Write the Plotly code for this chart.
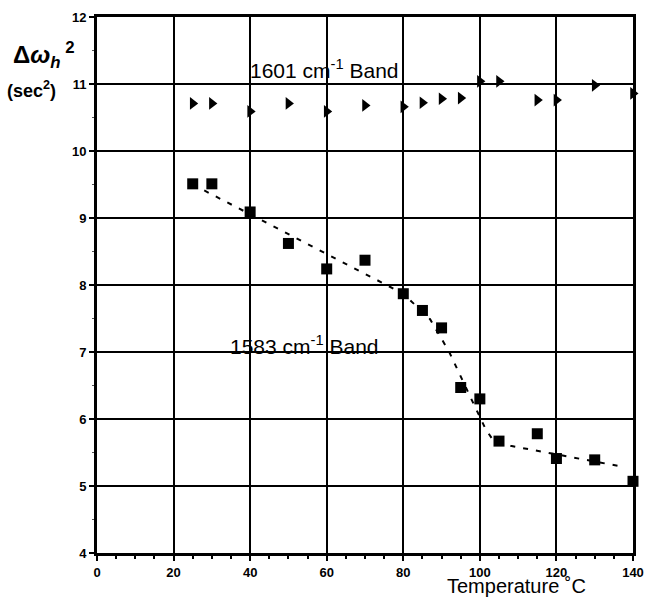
import plotly.graph_objects as go

# 1601 cm-1 band: temperature (°C) and Δω_h² (sec²)
temp_1601 = [25, 30, 40, 50, 60, 70, 80, 85, 90, 95, 100, 105, 115, 120, 130, 140]
dw_1601 = [10.71, 10.71, 10.59, 10.71, 10.59, 10.68, 10.66, 10.72, 10.78, 10.79,
           11.04, 11.04, 10.76, 10.76, 10.98, 10.86]

# 1583 cm-1 band
temp_1583 = [25, 30, 40, 50, 60, 70, 80, 85, 90, 95, 100, 105, 115, 120, 130, 140]
dw_1583 = [9.51, 9.51, 9.09, 8.62, 8.24, 8.37, 7.87, 7.62, 7.36, 6.47,
           6.30, 5.67, 5.78, 5.41, 5.39, 5.07]

# trend curve through the 1583 cm-1 band
fit_temp = [25, 80, 87, 92, 98, 101.5, 103.5, 108, 138]
fit_dw = [9.50, 7.87, 7.49, 7.00, 6.27, 5.85, 5.68, 5.60, 5.28]

x_ticks = [0, 20, 40, 60, 80, 100, 120, 140]
y_ticks = [4, 5, 6, 7, 8, 9, 10, 11, 12]

FONT = "Liberation Sans, Arial, sans-serif"

fig = go.Figure()

fig.add_trace(go.Scatter(
    x=fit_temp, y=fit_dw, mode="lines",
    line=dict(color="black", width=2, dash="5px,8px"),
    hoverinfo="skip", showlegend=False))

fig.add_trace(go.Scatter(
    x=temp_1583, y=dw_1583, mode="markers", cliponaxis=False,
    marker=dict(symbol="square", size=11, color="black"),
    showlegend=False))

fig.add_trace(go.Scatter(
    x=temp_1601, y=dw_1601, mode="markers", cliponaxis=False,
    marker=dict(symbol="triangle-right", size=11, color="black"),
    showlegend=False))

axis_common = dict(
    showline=True, linecolor="black", linewidth=3, mirror=True,
    showgrid=True, gridcolor="black", gridwidth=2,
    ticks="outside", ticklen=5, tickwidth=2, tickcolor="black",
    tickfont=dict(family=FONT, size=13, color="black", weight="bold"),
    zeroline=False, fixedrange=True, automargin=False,
)

fig.update_xaxes(range=[0, 140], tickvals=x_ticks,
                 minor=dict(dtick=5, tick0=0, ticks="outside", ticklen=3,
                            tickwidth=1.5, tickcolor="black", showgrid=False),
                 **axis_common)
fig.update_yaxes(range=[4, 12], tickvals=y_ticks,
                 minor=dict(dtick=0.5, tick0=4, ticks="outside", ticklen=2,
                            tickwidth=1, tickcolor="#555", showgrid=False),
                 **axis_common)

annotations = [
    dict(x=59.3, y=11.23, xref="x", yref="y", showarrow=False,
         text="1601 cm<sup>-1</sup> Band",
         font=dict(family=FONT, size=21, color="black")),
    dict(x=54.3, y=7.11, xref="x", yref="y", showarrow=False,
         text="1583 cm<sup>-1</sup> Band",
         font=dict(family=FONT, size=21, color="black")),
    dict(x=516, y=599, showarrow=False, xanchor="center", yanchor="bottom",
         text="Temperature ˚C",
         font=dict(family=FONT, size=20, color="black")),
    dict(x=11, y=55, showarrow=False, xanchor="left", yanchor="middle",
         text="Δ<i>ω</i><sub><i>h</i></sub><sup> 2</sup>",
         font=dict(family=FONT, size=24, color="black", weight="bold")),
    dict(x=5, y=90, showarrow=False, xanchor="left", yanchor="middle",
         text="(sec<sup>2</sup>)",
         font=dict(family=FONT, size=18, color="black", weight="bold")),
]

# place the pixel-positioned labels in paper coordinates
W, H = 645, 599
ML, MR, MT, MB = 97, 12, 17, 46
pw, ph = W - ML - MR, H - MT - MB
for a in annotations:
    if a.get("xref") != "x":
        a["xref"] = "paper"
        a["yref"] = "paper"
        a["x"] = (a["x"] - ML) / pw
        a["y"] = 1 - (a["y"] - MT) / ph

fig.update_layout(
    width=W, height=H,
    margin=dict(l=ML, r=MR, t=MT, b=MB, autoexpand=False),
    paper_bgcolor="white", plot_bgcolor="white",
    annotations=annotations,
    showlegend=False,
)

fig.write_html("out.html")
